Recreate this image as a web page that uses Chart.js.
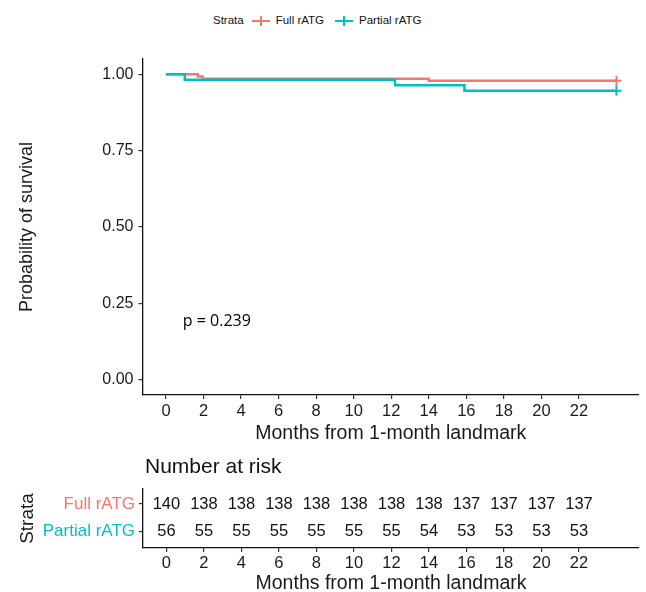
<!DOCTYPE html>
<html>
<head>
<meta charset="utf-8">
<script src="https://cdn.jsdelivr.net/npm/chart.js@4.4.0/dist/chart.umd.min.js"></script>
<style>
body{margin:0;background:#fff;font-family:"Liberation Sans",Arial,sans-serif}
#wrap{position:relative;width:646px;height:592px;overflow:hidden}
#km{position:absolute;left:0;top:0}
#risk{position:absolute;left:0;top:450px}
#legend{position:absolute;left:213px;top:13px;font-size:11.5px;color:#111;white-space:nowrap;line-height:14px}
#legend .key{position:relative;display:inline-block;width:18px;height:2px;margin:0 6px 0 8px;vertical-align:middle}
#legend .key i{position:absolute;left:8px;top:-4px;width:2px;height:10px}
</style>
</head>
<body>
<div id="wrap">
  <div id="legend"></div>
  <canvas id="km" width="646" height="450"></canvas>
  <canvas id="risk" width="646" height="145"></canvas>
</div>
<script>
const strata = ['Full rATG', 'Partial rATG'];
const strataColors = ['#F8766D', '#00BFC4'];

// survival curves (time in months, survival probability)
const fullTimes = [0, 1.7, 1.95, 14.0, 24.0];
const fullSurv = [1, 0.9929, 0.9857, 0.9786, 0.9786];
const partialTimes = [0, 1.0, 12.2, 15.9, 24.0];
const partialSurv = [1, 0.9821, 0.9643, 0.9464, 0.9464];

const xTicks = [0, 2, 4, 6, 8, 10, 12, 14, 16, 18, 20, 22];
const yTicks = [0, 0.25, 0.5, 0.75, 1];

// number at risk table
const riskTimes = [0, 2, 4, 6, 8, 10, 12, 14, 16, 18, 20, 22];
const fullRisk = [140, 138, 138, 138, 138, 138, 138, 138, 137, 137, 137, 137];
const partialRisk = [56, 55, 55, 55, 55, 55, 55, 54, 53, 53, 53, 53];

const pValue = 'p = 0.239';

const FONT = '"Liberation Sans", Arial, sans-serif';
const textColor = '#1a1a1a';

// legend
document.getElementById('legend').innerHTML = '<span>Strata</span>' + strata.map((s, i) =>
  `<span class="key" style="background:${strataColors[i]}"><i style="background:${strataColors[i]}"></i></span><span>${s}</span>`
).join('<span style="display:inline-block;width:3px"></span>');

const curve = (times, surv, i, order) => ({
  label: strata[i],
  data: times.map((t, k) => ({x: t, y: surv[k]})),
  borderColor: strataColors[i],
  backgroundColor: strataColors[i],
  borderWidth: 2.5,
  stepped: 'before',
  pointStyle: 'cross',
  pointRadius: times.map((t, k) => k === times.length - 1 ? 5 : 0),
  pointBorderWidth: 2,
  pointBorderColor: strataColors[i],
  order: order
});

const axisX = (height, tickPad, titlePad) => ({
  type: 'linear',
  min: -1.25,
  max: 25.2,
  afterBuildTicks: s => { s.ticks = xTicks.map(v => ({value: v})); },
  afterFit: s => { s.height = height; },
  border: {display: true, color: '#111', width: 1.3},
  grid: {drawOnChartArea: false, drawTicks: true, tickLength: 4, color: '#333', lineWidth: 1.2},
  ticks: {padding: tickPad, color: textColor, font: {family: FONT, size: 16.5}, callback: v => String(v), maxRotation: 0},
  title: {display: true, text: 'Months from 1-month landmark', color: textColor,
          font: {family: FONT, size: 19.5}, padding: {top: 0, bottom: titlePad}}
});

const pLabel = {
  id: 'pLabel',
  afterDatasetsDraw(chart) {
    const {ctx, scales: {x, y}} = chart;
    ctx.save();
    ctx.font = '16px "Open Sans", sans-serif';
    ctx.fillStyle = '#000';
    ctx.textBaseline = 'middle';
    ctx.fillText(pValue, x.getPixelForValue(0.9), y.getPixelForValue(0.19));
    ctx.restore();
  }
};

new Chart(document.getElementById('km'), {
  type: 'line',
  data: {datasets: [curve(fullTimes, fullSurv, 0, 1), curve(partialTimes, partialSurv, 1, 0)]},
  options: {
    responsive: false,
    animation: false,
    layout: {padding: {top: 59, right: 7, left: 0, bottom: 0}},
    plugins: {legend: {display: false}, tooltip: {enabled: false}},
    scales: {
      x: axisX(55, 3, 5),
      y: {
        min: -0.05,
        max: 1.05,
        afterBuildTicks: s => { s.ticks = yTicks.map(v => ({value: v})); },
        afterFit: s => { s.width = 142.5; },
        border: {display: true, color: '#111', width: 1.3},
        grid: {drawOnChartArea: false, drawTicks: true, tickLength: 4, color: '#333', lineWidth: 1.2},
        ticks: {padding: 5, color: textColor, font: {family: FONT, size: 16}, callback: v => v.toFixed(2)},
        title: {display: true, text: 'Probability of survival', color: textColor,
                font: {family: FONT, size: 18}, padding: {top: 16, bottom: 0}}
      }
    }
  },
  plugins: [pLabel]
});

const riskNumbers = {
  id: 'riskNumbers',
  afterDatasetsDraw(chart) {
    const ctx = chart.ctx;
    ctx.save();
    ctx.font = '16.5px ' + FONT;
    ctx.fillStyle = '#111';
    ctx.textAlign = 'center';
    ctx.textBaseline = 'middle';
    chart.data.datasets.forEach((ds, di) => {
      chart.getDatasetMeta(di).data.forEach((pt, i) => ctx.fillText(String(ds.data[i].n), pt.x, pt.y));
    });
    ctx.font = '21px ' + FONT;
    ctx.textAlign = 'left';
    ctx.fillText('Number at risk', chart.chartArea.left + 2, 17);
    ctx.restore();
  }
};

const riskRow = (counts, row) => ({
  label: strata[row - 1],
  data: riskTimes.map((t, i) => ({x: t, y: row, n: counts[i]})),
  pointRadius: 0,
  showLine: false
});

new Chart(document.getElementById('risk'), {
  type: 'scatter',
  data: {datasets: [riskRow(fullRisk, 1), riskRow(partialRisk, 2)]},
  options: {
    responsive: false,
    animation: false,
    layout: {padding: {top: 39, right: 7, left: 0, bottom: 0}},
    plugins: {legend: {display: false}, tooltip: {enabled: false}},
    scales: {
      x: axisX(47, 2, 0),
      y: {
        type: 'linear',
        min: 0.45,
        max: 2.6,
        reverse: true,
        afterBuildTicks: s => { s.ticks = [{value: 1}, {value: 2}]; },
        afterFit: s => { s.width = 143; },
        border: {display: true, color: '#111', width: 1.3},
        grid: {drawOnChartArea: false, drawTicks: true, tickLength: 4, color: '#333', lineWidth: 1.2},
        ticks: {padding: 4, font: {family: FONT, size: 17},
                color: c => strataColors[c.tick.value - 1],
                callback: v => strata[v - 1]},
        title: {display: true, text: 'Strata', color: textColor,
                font: {family: FONT, size: 19}, padding: {top: 16, bottom: 0}}
      }
    }
  },
  plugins: [riskNumbers]
});
</script>
</body>
</html>
